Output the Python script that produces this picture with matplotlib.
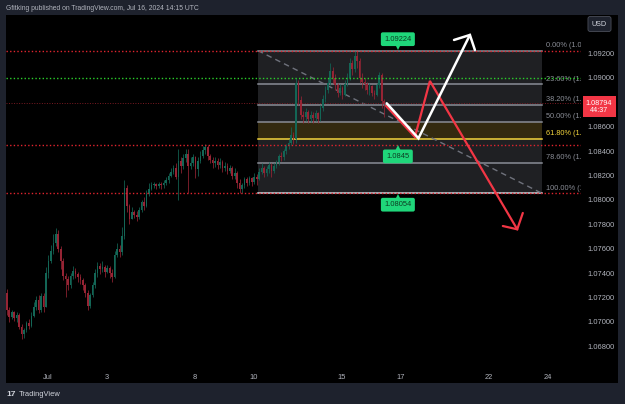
import matplotlib
matplotlib.use('Agg')
import matplotlib.pyplot as plt
from matplotlib.patches import Rectangle
from matplotlib import transforms
import numpy as np

plt.rcParams['font.family'] = ['Liberation Sans', 'DejaVu Sans']

W, H = 625, 404

# EURUSD 2h candles, prices in pips above 1.0600, open of first bar then close/high/low
first_open = 124
closes = [110, 104, 108, 103, 106, 96, 90, 93, 99, 97,
          105, 112, 118, 110, 121, 112, 140, 150, 158, 165,
          172, 160, 150, 138, 135, 130, 138, 142, 139, 137,
          134, 130, 124, 113, 122, 130, 140, 146, 143, 145,
          141, 144, 140, 137, 155, 160, 157, 170, 210, 195,
          184, 190, 188, 186, 192, 198, 195, 205, 209, 212,
          213, 211, 213, 212, 214, 216, 220, 223, 226, 219,
          232, 228, 234, 238, 228, 230, 235, 225, 232, 236,
          241, 243, 236, 233, 230, 232, 229, 231, 226, 228,
          224, 226, 220, 222, 214, 209, 212, 217, 214, 218,
          215, 219, 217, 223, 226, 222, 225, 229, 224, 228,
          231, 236, 235, 240, 244, 247, 253, 250, 296, 282,
          270, 268, 272, 266, 270, 267, 271, 266, 275, 283,
          290, 296, 306, 300, 294, 288, 292, 286, 295, 300,
          312, 307, 318, 314, 300, 297, 295, 290, 293, 288,
          286, 294, 302, 281, 279]
highs = [127, 112, 110, 109, 108, 107, 98, 95, 101, 102,
         108, 116, 121, 122, 124, 124, 145, 155, 163, 172,
         177, 175, 162, 152, 140, 138, 140, 146, 144, 141,
         139, 136, 132, 126, 124, 133, 143, 149, 148, 150,
         147, 147, 146, 143, 158, 165, 163, 178, 216, 212,
         197, 194, 192, 191, 194, 200, 202, 208, 214, 215,
         215, 214, 215, 215, 216, 219, 222, 226, 229, 230,
         242, 235, 238, 242, 242, 235, 238, 236, 235, 240,
         244, 246, 245, 238, 235, 235, 234, 234, 233, 231,
         230, 229, 228, 226, 224, 217, 214, 219, 219, 220,
         219, 222, 221, 226, 230, 228, 228, 231, 230, 230,
         233, 238, 239, 242, 246, 250, 260, 256, 300, 298,
         285, 273, 275, 274, 273, 272, 274, 272, 278, 286,
         293, 300, 312, 309, 303, 296, 295, 293, 298, 304,
         316, 315, 322, 322, 316, 304, 300, 297, 296, 294,
         290, 296, 305, 304, 283]
lows = [106, 100, 102, 101, 100, 94, 86, 87, 92, 94,
        96, 104, 110, 107, 108, 108, 112, 136, 148, 156,
        162, 157, 143, 134, 120, 126, 128, 135, 136, 133,
        131, 126, 120, 110, 111, 120, 128, 137, 139, 141,
        137, 140, 136, 133, 136, 153, 153, 155, 168, 190,
        180, 184, 185, 183, 184, 190, 192, 194, 203, 208,
        210, 209, 210, 209, 210, 212, 214, 219, 221, 217,
        200, 222, 225, 231, 206, 225, 228, 218, 220, 230,
        234, 238, 233, 230, 226, 227, 225, 226, 223, 224,
        221, 222, 217, 217, 210, 206, 206, 210, 211, 212,
        211, 213, 212, 216, 221, 219, 220, 222, 219, 222,
        226, 229, 232, 233, 238, 242, 245, 246, 247, 278,
        266, 263, 265, 263, 264, 263, 265, 263, 265, 273,
        280, 288, 294, 296, 290, 284, 286, 283, 285, 293,
        298, 302, 305, 308, 296, 292, 290, 287, 286, 285,
        283, 285, 292, 275, 268]
first_bar_day = -1.4     # trading days from Jul 1 00:00
bars_per_day = 12

day_ticks = [0, 2, 5, 7, 10, 12, 15, 17]
day_labels = ['Jul', '3', '8', '10', '15', '17', '22', '24']
# 1.08800 sits under the last price tag, so it is not shown
price_ticks = [1.068, 1.070, 1.072, 1.074, 1.076, 1.078, 1.080,
               1.082, 1.084, 1.086, 1.090, 1.092]

# fib retracement drawing
fib_t0, fib_t1 = 7.14, 16.8
fib_high, fib_low = 1.09224, 1.08054
fib_levels = [0.0, 0.236, 0.382, 0.5, 0.618, 0.786, 1.0]

last_price = 1.08794
countdown = '44:37'

# hand drawn arrows (trading day, price)
white_path = [(11.52, 1.08792), (12.60, 1.08505), (14.35, 1.09352)]
white_head = [(13.81, 1.09311), (14.35, 1.09352), (14.52, 1.09229)]
red_path = [(11.50, 1.08770), (12.48, 1.08516), (12.99, 1.08975), (15.96, 1.07759)]
red_head = [(15.47, 1.07786), (15.96, 1.07759), (16.15, 1.07893)]

green_tags = [(11.9, 1.09224, 1), (11.9, 1.0845, -1), (11.9, 1.08054, -1)]
tag_text = ['1.09224', '1.0845', '1.08054']

UP, DOWN = '#136656', '#962434'
TXT = '#b2b5be'
TAG = '#1fd67a'


def fx(px):
    return px / W


def fy(py):
    return 1 - py / H


fig = plt.figure(figsize=(W / 100, H / 100), dpi=100, facecolor='#1e222d')
fig.patches.append(Rectangle((fx(6), fy(383)), fx(618) - fx(6), fy(15) - fy(383),
                             transform=fig.transFigure, fc='black', ec='none', zorder=-1))

ax = fig.add_axes([fx(6), fy(368), fx(581) - fx(6), fy(15) - fy(368)])
ax.set_facecolor('black')
for s in ax.spines.values():
    s.set_visible(False)
ax.set_xlim(-1.4286, 18.129)
ax.set_ylim(1.066221, 1.095156)

# candles
c = 1.06 + np.array(closes) / 1e4
o = np.r_[1.06 + first_open / 1e4, c[:-1]]
hi = np.maximum(1.06 + np.array(highs) / 1e4, np.maximum(o, c))
lo = np.minimum(1.06 + np.array(lows) / 1e4, np.minimum(o, c))
t = first_bar_day + np.arange(len(c)) / bars_per_day
cols = np.where(c >= o, UP, DOWN)
ax.vlines(t, lo, hi, colors=cols, lw=0.55, zorder=3)
body = np.maximum(np.abs(c - o), 0.00003)
ax.bar(t, body, bottom=np.minimum(o, c), width=0.055, color=cols, lw=0, zorder=3)

# fib box
rng = fib_high - fib_low
lv = [fib_high - r * rng for r in fib_levels]
ax.add_patch(Rectangle((fib_t0, fib_low), fib_t1 - fib_t0, rng, fc='#1f2023', ec='none', zorder=1))
ax.add_patch(Rectangle((fib_t0, lv[4]), fib_t1 - fib_t0, lv[3] - lv[4], fc='#332a10', ec='none', zorder=1))
for r, p in zip(fib_levels, lv):
    col = '#f5d63d' if r == 0.618 else ('#d1d4dc' if r == 1.0 else '#8a8d96')
    ax.plot([fib_t0, fib_t1], [p, p], color=col, lw=1.1, zorder=2)
    # the label runs into the price scale and is cut there
    ax.annotate(f'{r * 100:.2f}% ({p:.5f})'[:10], (16.94, p), xytext=(0, 1.2),
                textcoords='offset points', va='bottom', ha='left', fontsize=5.3,
                color='#f5d63d' if r == 0.618 else '#8a8d96', clip_on=True, annotation_clip=False)
ax.plot([fib_t0, fib_t1], [fib_high, fib_low], color='#6f727c', lw=1, ls=(0, (4, 3)), zorder=2)

# horizontal levels
dot = (0, (1, 1.6))
for p in (1.09224, 1.0845, 1.08054):
    ax.axhline(p, color='#e0242e', lw=1, ls=dot, zorder=4)
ax.axhline(1.09, color='#2bd02b', lw=1, ls=dot, zorder=4)
ax.axhline(last_price, color='#7a1a22', lw=0.7, ls=dot, zorder=2)

# arrows
for pts, col, lw in ((red_path, '#f23645', 1.6), (red_head, '#f23645', 1.6),
                     (white_path, 'white', 1.8), (white_head, 'white', 1.8)):
    xs, ys = zip(*pts)
    ax.plot(xs, ys, color=col, lw=lw, solid_capstyle='round', solid_joinstyle='miter', zorder=6)

# green price tags
for (tt, p, d), s in zip(green_tags, tag_text):
    ax.annotate(s, (tt, p), xytext=(0, 8.2 * d), textcoords='offset points', ha='center',
                va='center', fontsize=5.4, color='#0d3b22', zorder=7,
                bbox=dict(boxstyle='round,pad=0.45,rounding_size=0.25', fc=TAG, ec='none'))
    ax.plot(tt, p + d * 0.00028, marker='v' if d > 0 else '^', ms=4, color=TAG, mew=0, zorder=7)

# axes labels
ax.set_xticks(day_ticks, day_labels)
ax.yaxis.tick_right()
ax.set_yticks(price_ticks, [f'{p:.5f}' for p in price_ticks])
ax.tick_params(axis='x', length=0, pad=4.5, labelsize=5.4, colors=TXT)
ax.tick_params(axis='y', length=0, pad=4.4, labelsize=5.4, colors=TXT)

# last price tag
bt = transforms.blended_transform_factory(fig.transFigure, ax.transData)
fig.text(fx(599), last_price - 0.00032, f'{last_price:.5f}\n{countdown}', transform=bt,
         ha='center', va='center', fontsize=5.2, color='white', linespacing=1.1,
         bbox=dict(boxstyle='square,pad=0.45', fc='#f23645', ec='none'))

fig.text(fx(599.5), fy(24), 'USD', ha='center', va='center', fontsize=5.2, color='#d1d4dc',
         bbox=dict(boxstyle='round,pad=0.55,rounding_size=0.3', fc='#1e222d', ec='#4a4e59', lw=0.6))
fig.text(fx(6), fy(8), 'Gfitking published on TradingView.com, Jul 16, 2024 14:15 UTC',
         ha='left', va='center', fontsize=4.9, color=TXT)
fig.text(fx(6), fy(395), '17', ha='left', va='center', fontsize=6, color='#d1d4dc', weight='bold')
fig.text(fx(19), fy(395), 'TradingView', ha='left', va='center', fontsize=5.4, color='#d1d4dc')

fig.savefig('out.png', dpi=100, facecolor=fig.get_facecolor())
